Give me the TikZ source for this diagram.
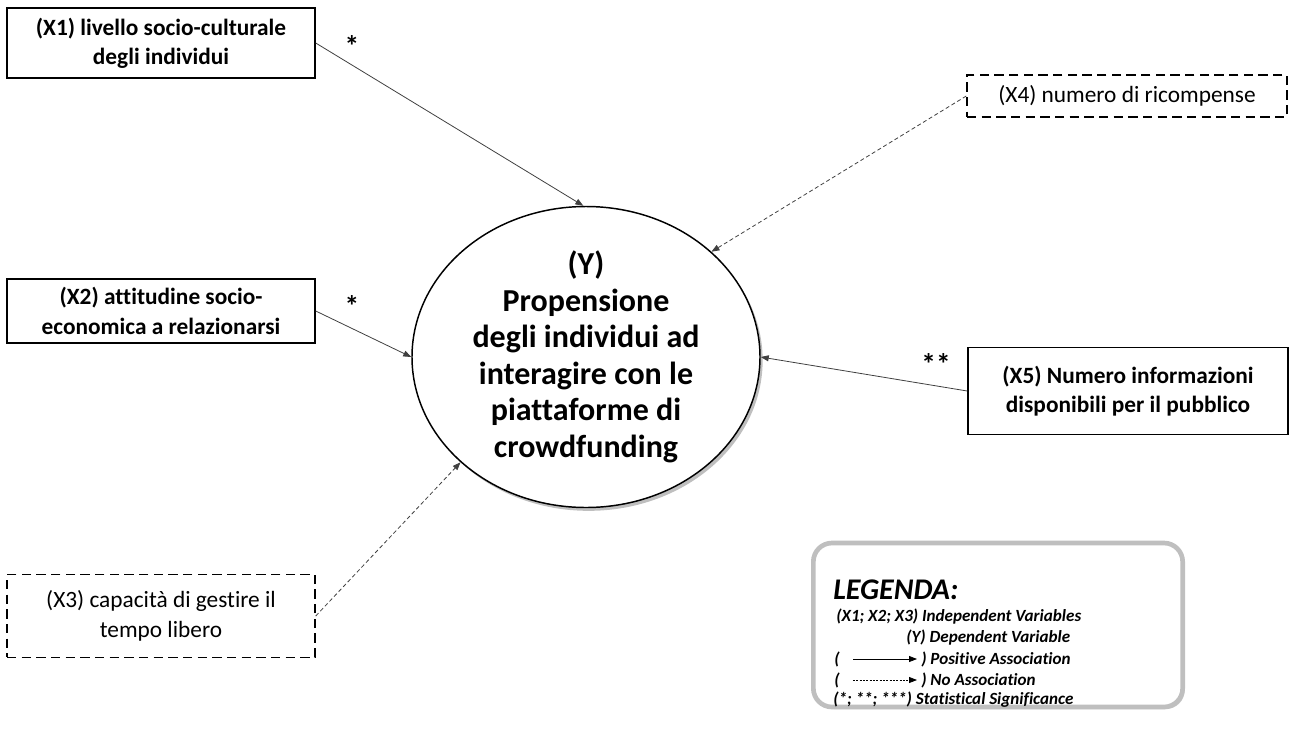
\documentclass[tikz,border=0pt]{standalone}
\usepackage{fontspec}
\setmainfont{Carlito}[Ligatures=NoCommon]
\usetikzlibrary{arrows.meta, shapes, shadows}

\begin{document}
\begin{tikzpicture}[x=0.75pt, y=-0.75pt,
    >={Triangle[length=6pt,width=4.5pt]},
    var/.style={draw, line width=1.1pt, rectangle, align=center, minimum width=231pt, inner sep=2pt, font=\fontsize{17.5}{22}\selectfont\bfseries},
    varno/.style={var, dash pattern=on 7pt off 4pt, font=\fontsize{17.5}{22}\selectfont},
    dep/.style={draw, line width=1.1pt, ellipse, fill=white, align=center, inner sep=0pt, minimum width=261pt, minimum height=225.75pt, font=\fontsize{24}{27.4}\selectfont\bfseries, drop shadow={shadow xshift=2pt, shadow yshift=-2.5pt, opacity=0.5}},
    rel/.style={->, line width=0.6pt, black!75},
    norel/.style={rel, dash pattern=on 3pt off 2pt},
    star/.style={font=\fontsize{22}{24}\selectfont\bfseries},
    legbox/.style={draw=gray!50, line width=3.5pt, fill=white, rounded corners=14pt, minimum width=277pt, minimum height=123pt, drop shadow={shadow xshift=1.5pt, shadow yshift=-1.5pt, opacity=0.4}},
    legtext/.style={anchor=west, inner sep=0pt, font=\fontsize{12.8}{15}\selectfont\bfseries\itshape}]

    \useasboundingbox (0,0) rectangle (1290,733);

    % Define nodes
    \node[var, minimum height=52.5pt] (X1) at (161,43) {(X1) livello socio-culturale\\degli individui};
    \node[var, minimum height=48pt] (X2) at (161,311) {(X2) attitudine socio-\\economica a relazionarsi};
    \node[varno, minimum height=62pt] (X3) at (161,616) {(X3) capacità di gestire il\\tempo libero};
    \node[varno, minimum width=240pt, minimum height=31.5pt] (X4) at (1127,96) {(X4) numero di ricompense};
    \node[var, minimum width=240pt, minimum height=65pt] (X5) at (1128,391) {(X5) Numero informazioni\\disponibili per il pubblico};
    \node[dep] (Y) at (586,357) {(Y)\\Propensione\\degli individui ad\\interagire con le\\piattaforme di\\crowdfunding};

    \node[star] (s1) at (352,46) {*};
    \node[star] (s2) at (352,306) {*};
    \node[star] (s5) at (936,364) {**};

    % Draw edges
    \draw[rel] (X1.east) -- (Y.91);
    \draw[rel] (X2.east) -- (Y.180);
    \draw[norel] (X3.east) -- (Y.220.7);
    \draw[norel] (X4.west) -- (Y.40.7);
    \draw[rel] (X5.west) -- (Y.0);

    % Legend
    \node[legbox] (leg) at (998,625) {};
    \node[legtext, font=\fontsize{22.5}{26}\selectfont\bfseries\itshape] (legtitle) at (833,590) {LEGENDA:};
    \node[legtext] (leg1) at (836,617) {(X1; X2; X3) Independent Variables};
    \node[legtext] (leg2) at (906,638) {(Y) Dependent Variable};
    \node[legtext] (leg3a) at (834,659) {(};
    \node[legtext] (leg3b) at (921,659) {) Positive Association};
    \node[legtext] (leg4a) at (834,680) {(};
    \node[legtext] (leg4b) at (921,680) {) No Association};
    \node[legtext] (leg5) at (833,700) {(*; **; ***) Statistical Significance};

    \coordinate (pa) at (853,659);
    \coordinate (pb) at (917,659);
    \coordinate (na) at (853,680);
    \coordinate (nb) at (917,680);
    \draw[rel, black] (pa) -- (pb);
    \draw[norel, black, dash pattern=on 1.5pt off 1pt] (na) -- (nb);

\end{tikzpicture}
\end{document}
